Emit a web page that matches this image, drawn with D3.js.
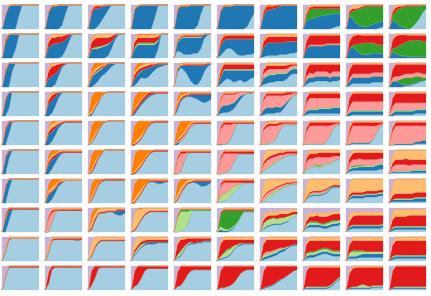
<!DOCTYPE html>
<html>
<head>
<meta charset="utf-8">
<script src="https://cdn.jsdelivr.net/npm/d3@7"></script>
<style>
  html, body { margin: 0; padding: 0; background: #fff; }
  svg { display: block; }
</style>
</head>
<body>
<div id="chart"></div>
<script>
// layers, bottom of the stack first
const seriesKeys = ["lightBlue", "darkBlue", "lightGreen", "green", "pink", "red", "lightOrange", "orange", "lavender"];
const seriesColors = ["#a6cee3", "#1f78b4", "#b2df8a", "#33a02c", "#fb9a99", "#e31a1c", "#fdbf6f", "#ff7f00", "#cab2d6"];

// one string per panel, one token per layer (same order as seriesKeys),
// 12 time steps, one base-36 char per step ("k" = 20 = whole column), "-" = layer absent
const row0 = [
    "000005gkkkkk 0ckkf4000000 - - - - - 001000000000 k80000000000",
    "000003ckkkkk 0ejjkh800000 - - - - - 011100000000 k50000000000",
    "00038ekkkkkk 0dhhea500000 - - - 022211000000 011110000000 - k40000000000",
    "00000009jkkk 0gjjkkkb1000 - - - - - 011000000000 k30000000000",
    "00000003dkkk 0gjjjjkh7000 - - - - - 011110000000 k30000000000",
    "00000000028d 0fjjjjkkkic7 - - - - - 011110000000 k40000000000",
    "- 0bgghijkkkkk - - - 033322100000 - 021110000000 k40000000000",
    "000000000123 0789abbcccba - 048876655444 - 022222222222 022111111111 020000000000 k30000000000",
    "000000000012 0b9532234555 - 026beghgfedc - 022111111111 023321000000 - k30000000000",
    "0000000259eh 086321000000 - 039egijhea63 - 033211111100 012110000000 020000000000 k30000000000"
];
const row1 = [
    "00007jkkkkkk 0djkd1000000 - - - 021000000000 - 010000000000 k40000000000",
    "0000016djkkk 09bcdc951000 - - - 046555420000 023322100000 010000000000 k40000000000",
    "00000028fjkk 07889a963100 011111100000 000100000000 - 057776542000 023333320000 011000000000 k40000000000",
    "000000007kkk 07bbbbbb7000 011111111000 011111110000 - 044444443000 022222222000 011111110000 k40000000000",
    "065333448ejk 07beeedd9310 011111111000 - - 011111111000 022111111000 - k30000000000",
    "025886322334 08a88adeeddc - - - 033333333333 011111111111 021000000000 k40000000000",
    "012222333445 08bbbbaabaa9 - - - 055555554444 012222222222 021000000000 k40000000000",
    "- 08aaaaabbbbb - - 001111111111 068888877777 011111111111 010000000000 k40000000000",
    "- 08a853334444 - 00269aa98777 - 068987666788 012111111111 010000000000 k40000000000",
    "- 064322111111 - 0369bdeeeedd - 08ba86544455 012111111111 010000000000 k40000000000"
];
const row2 = [
    "000dkkkkkkkk 0dk700000000 - - - - - 020000000000 k50000000000",
    "00029gjkkkkk 079952000000 - - - 068752100000 022210000000 011000000000 k40000000000",
    "00259behjkkk 078866531000 001110000000 010000000000 - 011111100000 022211000000 055321000000 k40000000000",
    "014878behijj 066588643210 - 001100000000 - 033222211111 022222110000 044210000000 k40000000000",
    "0cgea5226dhj 03248dggc521 - - - 000111111110 011111111100 011000000000 k30000000000",
    "025764564578 05978a98a976 011111111111 - - 044444444444 021111111111 020000000000 k40000000000",
    "023445557abb 056666665444 011111111111 - 034443333222 034333333211 022222222111 - k40000000000",
    "024455554556 044444444443 - - 034344443444 057866668666 011111111111 010000000000 k40000000000",
    "013333334444 045555555555 - - 023333333333 078888887777 011111111111 010000000000 k40000000000",
    "000001123456 055421111100 - 000256655432 034333333333 07aa98887788 011111111111 010000000000 k40000000000"
];
const row3 = [
    "006kkkkkkkkk 0de000000000 - - - 020000000000 - - k50000000000",
    "0028fjkkkkkk 0ab841000000 - - - 034310000000 022100000000 011000000000 k40000000000",
    "005bhjkkkkkk 021000000000 - - - 001100000000 022100000000 0cb731000000 k40000000000",
    "0159cfhijjjj 022222110000 - - - 022222211111 011110000000 0aa631000000 k40000000000",
    "04cfggfecbce 032112346764 - - - 021111111111 022111111111 053210000000 k40000000000",
    "023346aehjjk 056665431000 - - 069987532100 011111100010 001111000000 020000000000 k40000000000",
    "01222336aehi 045555432100 - - 08aaa9a86321 022222222211 011111110000 - k40000000000",
    "012222222222 033334444555 001111111111 - 079998888777 044444444444 011111111111 - k40000000000",
    "001111111111 033333333333 001111111111 - 057777777777 077777777777 011111111111 - k40000000000",
    "001111112222 023333333333 001111111111 - 066666665555 078888888888 011111111111 - k40000000000"
];
const row4 = [
    "009jkkkkkkkk 0ca000000000 - - - 021100000000 - 010000000000 k50000000000",
    "0038ehjjjjjj 098631000000 - - - 023211111111 034321000000 022100000000 k40000000000",
    "016chjkkkkkk 010000000000 - - - 001110000000 022100000000 0cb621000000 k40000000000",
    "0025afijjjjj - - - - 011111111111 012210000000 0efc84100000 k40000000000",
    "0036bfhiiiii 020000000000 - - 012222100000 011111111111 012221111111 0ac951000000 k50000000000",
    "00115ciiiiii 010000000000 - - 0cggc6000000 022221111111 011111111111 - k40000000000",
    "011237dhhhhh - - - 0beed9411111 022222211111 022222111111 001000000000 k40000000000",
    "011111138ehh - - - 0afffffd8311 033333333211 021111111111 - k40000000000",
    "001111114afh 011111110000 - - 09eeeeeeb621 033333333321 011111111111 020000000000 k40000000000",
    "000000001111 001111112233 - - 0bffffffedcc 033333333333 021111111111 - k40000000000"
];
const row5 = [
    "00ckkkkkkkkk 0d7000000000 - - - 021000000000 - - k50000000000",
    "0049ehiiiiii 088531000000 - - - 022211111111 022111111111 044310000000 k40000000000",
    "016dhjkkkkkk - - - - 012110000000 022100000000 0ca520000000 k40000000000",
    "0036bfijjjjj - - - - 011111111111 012211000000 0eeb73100000 k40000000000",
    "002bhiiiiiii - - - 0cf610000000 022211111111 021111111111 - k40000000000",
    "00124aghhhhh - - - 0cgfd7100000 022222222222 021111111111 - k40000000000",
    "02468acefggg - 011111100000 - 056654322111 022222222222 067543221111 - k40000000000",
    "035665788acd - 011111111100 000011000000 067667655432 034434444333 013332222222 020000000000 k40000000000",
    "023333333344 022233333444 011111111111 001111000000 045554555444 045656666655 033222222222 - k40000000000",
    "011111111111 011111122222 001111111111 - 045555444444 034445544444 078887888888 - k40000000000"
];
const row6 = [
    "00bkkkkkkkkk 0d9000000000 - - - 020000000000 - - k50000000000",
    "0038ehjjjjjj 076421000000 - - - 011111000000 023211111111 067521000000 k40000000000",
    "017eijjjjjjj - - - 022100000000 011111111111 022100000000 0a8310000000 k40000000000",
    "0048dhihgghi 000000012210 - - - 011111111111 023210111111 0dc952000000 k40000000000",
    "027cghhgeefh 000000124431 - - 012100000000 011111111111 033222111111 097410000000 k40000000000",
    "012369cfghhh - 046655311000 - 099863210000 022222222222 001111111111 - k40000000000",
    "013579bdefgg - 012222111000 - 033322211111 011111111111 0ab986543322 - k40000000000",
    "03566678bddd 001111111111 011111111000 - 001111110000 011111111111 0bbaaa986555 - k40000000000",
    "034444555566 012222222222 011111111111 - - 022222222222 09bbbbaaaa99 - k40000000000",
    "011111111111 022222223333 001111111111 - - 034444444444 0accccccbbbb - k40000000000"
];
const row7 = [
    "009ijjjjjjjj 0b9100000000 - - 020000000000 022111111111 - - k50000000000",
    "008giiiiiiii - - - 0b8200000000 022111111111 022111111111 - k50000000000",
    "029fgghhfeeg 000000002442 - - - 022111111111 044333222111 085100000000 k40000000000",
    "015aeghhhhhh - - - - 011111111111 0dd853222222 011100000000 k40000000000",
    "00126fiiiiii - 0cgfb3000000 022221111111 - - 011111111111 010000000000 k50000000000",
    "0000137dhhhh 021111000000 032111100000 0afgfda51111 - 011111111111 001111111111 - k40000000000",
    "024566678bde 011111111000 045554544321 - - 033323332222 043333333322 - k64333222111",
    "034444334556 012222222222 022221122222 001111111110 - 034455655555 053323332222 - k64444444333",
    "023333333334 022222222222 011111111111 - - 047888888887 064333333333 - k53333333333",
    "012222222222 022222222222 011111111111 - - 068888999999 076666555555 - k31111111111"
];
const row8 = [
    "07ijjjjjjjjj - - - 030000000000 001000000000 021111111111 - k80000000000",
    "06hiiiiiihhi 000000000110 - - 030000000000 001111111111 052111111111 - k60000000000",
    "03afhhhhhhhh - 011000000000 - - 011111111111 0a8422222222 - k50000000000",
    "048bdeeeffff 011112221111 022210000000 - - 022222222222 077432222222 - k40000000000",
    "0249deeffggg 011111111111 023211000000 001000000000 - 099643433222 022211111111 - k40000000000",
    "012359cdeeee 011111111111 023543110000 001110000000 - 0ab875433333 022222222222 - k40000000000",
    "01234578acdd 022222221111 022222111000 - 012111100000 08aa98776544 022222222222 - k40000000000",
    "023345665444 022222222222 022222222222 011111111111 - 079987667888 023333333333 - k40000000000",
    "022233333333 022223333333 034432222222 001111000000 - 078888999999 023333333333 - k40000000000",
    "012222222222 022222222222 011111111111 - - 09cccccccccc 033333333333 - k40000000000"
];
const row9 = [
    "0ajjjjjjjjjj - - - 020000000000 001111111111 - - k80000000000",
    "05hjjjjjjjjj - - - - 0a3111111111 - - k50000000000",
    "04aijjjjjjjj - - - - 0ca211111111 - - k40000000000",
    "035agiiiiiii - - - - 0dfa42222222 - - k40000000000",
    "0348dghhhhhh - - - - 0cgc74333333 - - k50000000000",
    "022346aeghhh - - - - 0eihgea64333 - - k40000000000",
    "0123468acegh 011111100000 - - - 0ehgfdba8643 - - k40000000000",
    "011111112479 011111111111 011111111111 - - 0dggggggfda8 001111111111 - k40000000000",
    "011111112222 011111111111 001123211111 - - 0cfgfefgffff 022111111111 - k40000000000",
    "011111111111 011111111111 001111111111 - - 0ehhhhhhhhhh - - k40000000000"
];

const rows = [row0, row1, row2, row3, row4, row5, row6, row7, row8, row9];
const steps = d3.range(12);

// panel string -> one object per time step
function parsePanel(str) {
    const tokens = str.split(" ");
    return steps.map(t => {
        const d = { t: t };
        seriesKeys.forEach((k, i) => {
            d[k] = tokens[i] === "-" ? 0 : parseInt(tokens[i][t], 36);
        });
        return d;
    });
}

const width = 431;
const height = 296;

const svg = d3.select("#chart").append("svg")
    .attr("width", width)
    .attr("height", height);

// grid of small multiples
const colScale = d3.scaleBand().domain(d3.range(10)).range([2, 426]).paddingInner(6 / 43);
const rowScale = d3.scaleBand().domain(d3.range(10)).range([5, 290]).paddingInner(5 / 29);

const pw = colScale.bandwidth();
const ph = rowScale.bandwidth();

const x = d3.scaleLinear().domain([0, 11]).range([0, pw]);
const y = d3.scaleLinear().domain([0, 1]).range([ph, 0]);
const color = d3.scaleOrdinal().domain(seriesKeys).range(seriesColors);

const stack = d3.stack().keys(seriesKeys).offset(d3.stackOffsetExpand);

const area = d3.area()
    .x(d => x(d.data.t))
    .y0(d => y(d[0]))
    .y1(d => y(d[1]));

rows.forEach((row, r) => {
    row.forEach((panelStr, c) => {
        const layers = stack(parsePanel(panelStr));
        const g = svg.append("g")
            .attr("class", "panel")
            .attr("transform", `translate(${colScale(c)},${rowScale(r)})`);

        g.selectAll("path")
            .data(layers)
            .join("path")
            .attr("d", area)
            .attr("fill", d => color(d.key))
            .attr("stroke", d => color(d.key))
            .attr("stroke-width", 0.3);
    });
});
</script>
</body>
</html>
